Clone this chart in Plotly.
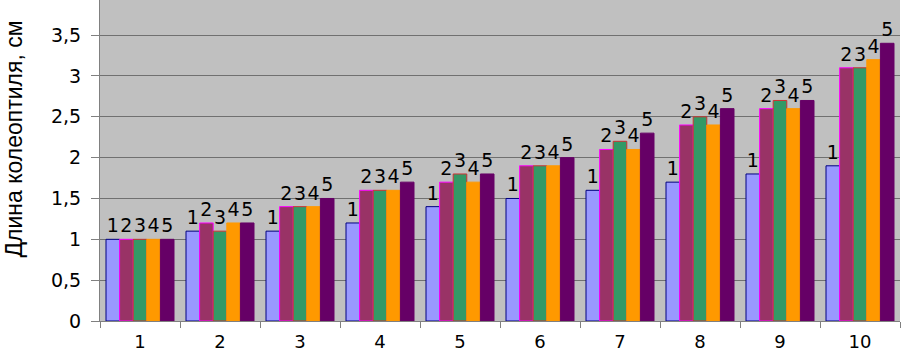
import plotly.graph_objects as go

categories = ["1", "2", "3", "4", "5", "6", "7", "8", "9", "10"]
series_names = ["1", "2", "3", "4", "5"]
s1 = [1.0, 1.1, 1.1, 1.2, 1.4, 1.5, 1.6, 1.7, 1.8, 1.9]
s2 = [1.0, 1.2, 1.4, 1.6, 1.7, 1.9, 2.1, 2.4, 2.6, 3.1]
s3 = [1.0, 1.1, 1.4, 1.6, 1.8, 1.9, 2.2, 2.5, 2.7, 3.1]
s4 = [1.0, 1.2, 1.4, 1.6, 1.7, 1.9, 2.1, 2.4, 2.6, 3.2]
s5 = [1.0, 1.2, 1.5, 1.7, 1.8, 2.0, 2.3, 2.6, 2.7, 3.4]
y_tickvals = [0, 0.5, 1, 1.5, 2, 2.5, 3, 3.5]
y_ticktext = ["0", "0,5", "1", "1,5", "2", "2,5", "3", "3,5"]
y_title = "Длина колеоптиля, см"

fills = ["#9999FF", "#993366", "#339966", "#FF9900", "#660066"]
outlines = ["#000080", "#FF00FF", "#CC3333", "#FF9900", "#660066"]
FONT = "DejaVu Sans, Verdana, sans-serif"

fig = go.Figure()
for name, vals, fc, lc in zip(series_names, [s1, s2, s3, s4, s5], fills, outlines):
    fig.add_trace(go.Bar(
        x=categories, y=vals, name=name,
        marker=dict(color=fc, line=dict(color=lc, width=1)),
        text=[name] * len(vals), textposition="outside",
        constraintext="none",
        textfont=dict(family=FONT, size=19, color="#000000"),
        cliponaxis=False,
    ))

fig.update_layout(
    barmode="group", bargap=0.15, bargroupgap=0,
    width=901, height=354,
    margin=dict(l=100, r=1, t=0, b=33, autoexpand=False),
    plot_bgcolor="#C0C0C0", paper_bgcolor="#FFFFFF",
    showlegend=False,
    font=dict(family=FONT, size=18, color="#000000"),
)
fig.update_xaxes(
    type="category", tickson="boundaries", ticks="outside", ticklen=6,
    tickcolor="#808080", showline=True, linecolor="#808080", linewidth=1,
    showgrid=False, tickfont=dict(size=18, family=FONT),
    ticklabelstandoff=4, automargin=False,
)
fig.update_yaxes(
    range=[0, 3.93], tickvals=y_tickvals, ticktext=y_ticktext,
    ticks="outside", ticklen=8, tickcolor="#808080",
    showline=True, linecolor="#808080", linewidth=1,
    gridcolor="#707070", gridwidth=1, zeroline=False,
    tickfont=dict(size=19, family=FONT),
    ticklabelstandoff=6, automargin=False,
)
fig.add_annotation(
    text=y_title, textangle=-90, showarrow=False,
    xref="paper", yref="paper", x=-0.108, y=0.567,
    xanchor="center", yanchor="middle",
    font=dict(size=23, family="Liberation Sans, Arial", color="#000000"),
)

fig.write_html("out.html", config={"displayModeBar": False},
               post_script="document.body.style.margin='0';")
